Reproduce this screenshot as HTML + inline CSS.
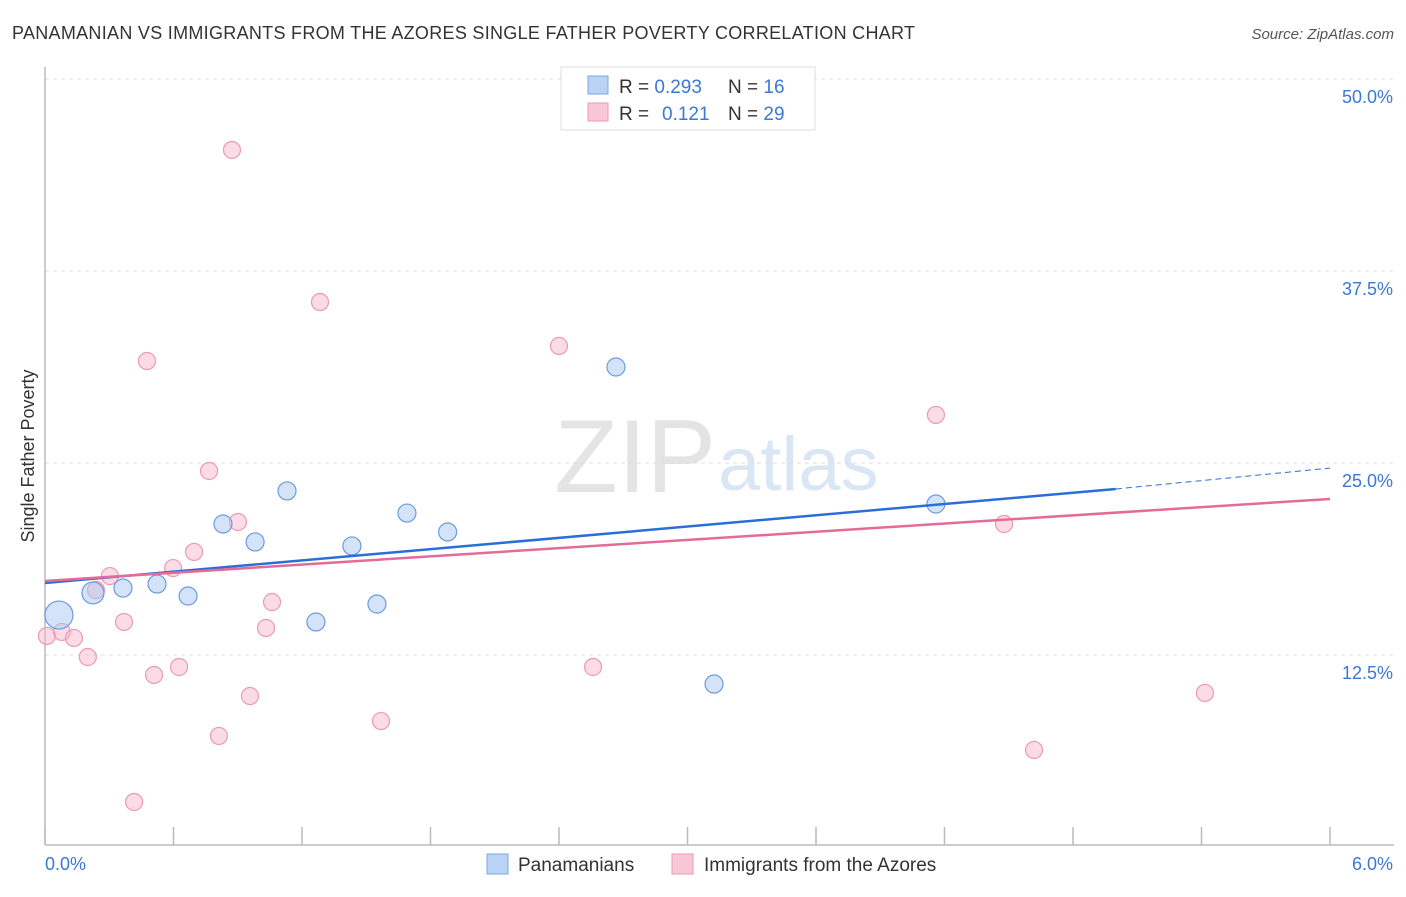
<!DOCTYPE html>
<html><head><meta charset="utf-8"><style>
body{margin:0;background:#fff;font-family:"Liberation Sans",sans-serif;}
svg text{font-family:"Liberation Sans",sans-serif;}
</style></head><body>
<svg id="chart" width="1406" height="892">
<text x="12" y="39" font-size="18" fill="#333" textLength="903">PANAMANIAN VS IMMIGRANTS FROM THE AZORES SINGLE FATHER POVERTY CORRELATION CHART</text>
<text x="1394" y="39" font-size="15" fill="#555" text-anchor="end" font-style="italic">Source: ZipAtlas.com</text>
<text transform="translate(34,456) rotate(-90)" font-size="18" fill="#333" text-anchor="middle">Single Father Poverty</text>
<text x="716" y="492" font-size="104" fill="#e4e4e4" text-anchor="end" font-family="Liberation Serif">ZIP</text>
<text x="718" y="490" font-size="76" fill="#dbe6f5">atlas</text>
<g id="grid"></g><g id="axes"></g><g id="marks"></g>
<g>
<rect x="561" y="67" width="254" height="63" fill="#fff" stroke="#ddd"/>
<rect x="588" y="76" width="20" height="18" fill="#b9d3f5" stroke="#7aa7e6"/>
<rect x="588" y="103" width="20" height="18" fill="#f9c6d5" stroke="#ec9ab3"/>
<text x="619" y="93" font-size="19" fill="#333">R = <tspan fill="#3a78d6">0.293</tspan><tspan x="728">N = </tspan><tspan fill="#3a78d6">16</tspan></text>
<text x="619" y="120" font-size="19" fill="#333">R = <tspan x="662" fill="#3a78d6">0.121</tspan><tspan x="728">N = </tspan><tspan fill="#3a78d6">29</tspan></text>
</g>
<g>
<rect x="487" y="854" width="21" height="20" fill="#b9d3f5" stroke="#7aa7e6"/>
<text x="518" y="871" font-size="19" fill="#333">Panamanians</text>
<rect x="672" y="854" width="21" height="20" fill="#f9c6d5" stroke="#ec9ab3"/>
<text x="704" y="871" font-size="19" fill="#333">Immigrants from the Azores</text>
</g>
</svg>
<script>
const blueX=[0.065,0.224,0.364,0.523,0.668,0.831,0.981,1.13,1.265,1.433,1.55,1.69,1.88,2.666,3.124,4.16];
const blueY=[15.1,16.54,16.86,17.12,16.34,21.03,19.86,23.18,14.65,19.6,15.82,21.74,20.51,31.25,10.61,22.33];
const blueR=[14,11,9,9,9,9,9,9,9,9,9,9,9,9,9,9];
const pinkX=[0.009,0.079,0.135,0.2,0.238,0.303,0.369,0.416,0.476,0.509,0.598,0.626,0.696,0.766,0.812,0.873,0.901,0.957,1.032,1.06,1.284,1.569,2.4,2.559,4.16,4.478,4.618,5.416,3.184];
const pinkY=[13.74,14.0,13.61,12.37,16.73,17.64,14.65,2.93,31.64,11.2,18.16,11.72,19.21,24.48,7.23,45.38,21.16,9.83,14.26,15.95,35.48,8.2,32.62,11.72,28.13,21.03,6.32,10.03,47.79];
const blueTrend=[17.19,23.31,24.67]; // at x=0, 5.0, 6.0
const pinkTrend=[17.32,22.66]; // at x=0, 6.0
const yTicks=[12.5,25,37.5,50];
const yTickLabels=["12.5%","25.0%","37.5%","50.0%"];
const xTicks=[0,0.6,1.2,1.8,2.4,3.0,3.6,4.2,4.8,5.4,6.0];
const xs=v=>45+v/6*1285, ys=v=>847-v*15.36;
const NS="http://www.w3.org/2000/svg";
function mk(p,t,a){const e=document.createElementNS(NS,t);for(const k in a)e.setAttribute(k,a[k]);p.appendChild(e);return e;}
const grid=document.getElementById('grid'),axes=document.getElementById('axes'),marks=document.getElementById('marks');
yTicks.forEach((v,i)=>{
 const l=mk(grid,'line',{x1:45,x2:1394,y1:ys(v),y2:ys(v),stroke:'#ddd','stroke-dasharray':'4,4'});
 
 
 const t=mk(grid,'text',{x:1393,y:ys(v)+24,'font-size':18,fill:'#3a78d6','text-anchor':'end'});
 t.textContent=yTickLabels[i];
 
 
});
const la=mk(axes,'line',{x1:45,x2:45,y1:67,y2:845,stroke:'#bbb','stroke-width':1.5});


const ba=mk(axes,'line',{x1:45,x2:1394,y1:845,y2:845,stroke:'#bbb','stroke-width':1.5});


xTicks.forEach(v=>{const t=mk(axes,'line',{x1:xs(v),x2:xs(v),y1:827,y2:845,stroke:'#bbb','stroke-width':1.5});
 
 });
[[0,'0.0%','start',45],[6,'6.0%','end',1393]].forEach(d=>{const t=mk(axes,'text',{x:d[3],y:870,'font-size':18,fill:'#3a78d6','text-anchor':d[2]});t.textContent=d[1];
 
 });
pinkX.forEach((v,i)=>{const c=mk(marks,'circle',{cx:xs(v),cy:ys(pinkY[i]),r:8.5,fill:'rgba(246,178,199,0.45)',stroke:'#ec9ab3','stroke-width':1.2});
 
 });
blueX.forEach((v,i)=>{const c=mk(marks,'circle',{cx:xs(v),cy:ys(blueY[i]),r:blueR[i],fill:'rgba(170,200,240,0.5)',stroke:'#6a9be0','stroke-width':1.2});
 
 });
const b1=mk(marks,'line',{x1:xs(0),y1:ys(blueTrend[0]),x2:xs(5),y2:ys(blueTrend[1]),stroke:'#2a6fd8','stroke-width':2.5});


const b2=mk(marks,'line',{x1:xs(5),y1:ys(blueTrend[1]),x2:xs(6),y2:ys(blueTrend[2]),stroke:'#2a6fd8','stroke-width':1,'stroke-dasharray':'6,4'});


const p1=mk(marks,'line',{x1:xs(0),y1:ys(pinkTrend[0]),x2:xs(6),y2:ys(pinkTrend[1]),stroke:'#e46b97','stroke-width':2.5});


</script>
</body></html>
